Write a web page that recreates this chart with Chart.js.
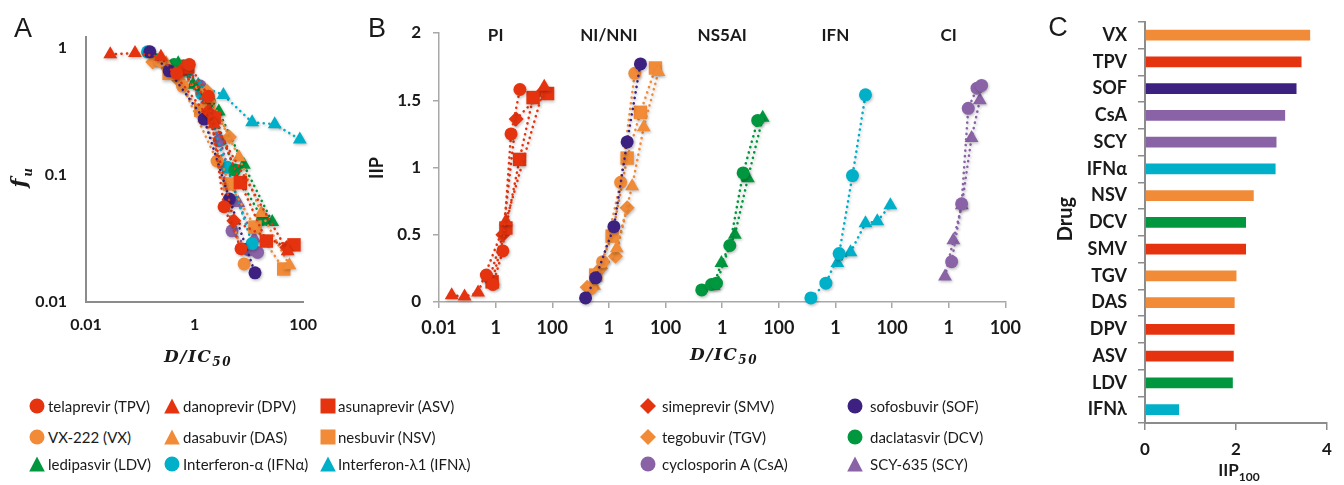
<!DOCTYPE html>
<html lang="en">
<head>
<meta charset="UTF-8">
<title>Instantaneous inhibitory potential of HCV drugs</title>
<script src="https://cdn.jsdelivr.net/npm/chart.js"></script>
<style>
  body { margin: 0; background: #fff; font-family: Lato, sans-serif; color: #1a1a1a; }
  #wrap { position: relative; width: 1344px; height: 485px; overflow: hidden; }
  canvas { position: absolute; top: 0; }
  .lbl { position: absolute; white-space: nowrap; line-height: 1; }
  .ctr { transform: translate(-50%, -50%); }
  .rot { transform: translate(-50%, -50%) rotate(-90deg); }
  .panel { font-family: "Liberation Sans", Arial, sans-serif; font-size: 27px; }
  .math { font-family: "DejaVu Serif", serif; font-style: italic; font-weight: bold; font-size: 17px; letter-spacing: 1.5px; }
  .math sub { font-size: 12px; }
  .bold { font-weight: bold; }
  .leg { position: absolute; font-size: 15px; white-space: nowrap; transform: translateY(-50%); }
  .mk { position: absolute; }
</style>
</head>
<body>
<div id="wrap">
  <canvas id="chartA" width="330" height="385" style="left:0"></canvas>
  <canvas id="chartB" width="670" height="385" style="left:360px"></canvas>
  <canvas id="chartC" width="314" height="485" style="left:1030px"></canvas>

  <div class="lbl panel ctr" style="left:23px;top:28px">A</div>
  <div class="lbl panel ctr" style="left:377px;top:28px">B</div>
  <div class="lbl panel ctr" style="left:1058px;top:27px">C</div>

  <div class="lbl math rot" style="left:21px;top:177px;font-size:21px">f<sub>u</sub></div>
  <div class="lbl math ctr" style="left:198px;top:358px">D/IC<sub>50</sub></div>
  <div class="lbl math ctr" style="left:724px;top:356px">D/IC<sub>50</sub></div>
  <div class="lbl bold rot" style="left:376px;top:168px;font-size:18px">IIP</div>
  <div class="lbl bold rot" style="left:1064px;top:219px;font-size:20px">Drug</div>
  <div class="lbl bold ctr" style="left:1239px;top:472px;font-size:17px">IIP<sub style="font-size:12px">100</sub></div>
  <div id="legend"></div>
</div>

<script>
  const RED = '#E5330F', ORANGE = '#F18B37', NAVY = '#3C2181',
        PURPLE = '#8A63A7', CYAN = '#00AFC8', GREEN = '#00973E';

  // D/IC50 and IIP; panel A shows the same points as fu = 10^-IIP
  const tpvDose = [0.47, 0.8, 1.8, 3.5, 7.2];
  const tpvIIP  = [0.20, 0.13, 0.38, 1.25, 1.58];
  const dpvDose = [0.028, 0.08, 0.24, 2.3, 52];
  const dpvIIP  = [0.05, 0.04, 0.07, 0.60, 1.60];
  const asvDose = [0.75, 2.3, 7.0, 21, 68];
  const asvIIP  = [0.15, 0.55, 1.06, 1.52, 1.55];
  const smvDose = [0.6, 1.8, 5.3, 50];
  const smvIIP  = [0.17, 0.50, 1.36, 1.57];
  const sofDose = [0.15, 0.34, 1.5, 4.4, 13];
  const sofIIP  = [0.03, 0.18, 0.56, 1.19, 1.77];
  const vxDose  = [0.23, 0.6, 2.6, 8.2];
  const vxIIP   = [0.10, 0.30, 0.89, 1.70];
  const dasDose = [0.3, 1.9, 6.6, 17, 56];
  const dasIIP  = [0.12, 0.40, 0.86, 1.30, 1.71];
  const nsvDose = [0.34, 1.3, 4.4, 13, 44];
  const nsvIIP  = [0.20, 0.49, 1.07, 1.41, 1.74];
  const tgvDose = [0.17, 0.5, 1.7, 4.4];
  const tgvIIP  = [0.11, 0.25, 0.34, 0.70];
  const dcvDose = [0.19, 0.42, 0.63, 1.86, 5.5, 18];
  const dcvIIP  = [0.09, 0.13, 0.14, 0.42, 0.96, 1.35];
  const ldvDose = [0.5, 0.94, 2.8, 8.1, 27];
  const ldvIIP  = [0.12, 0.29, 0.50, 0.92, 1.37];
  const ifnaDose = [0.136, 0.46, 1.35, 4.0, 11.5];
  const ifnaIIP  = [0.03, 0.14, 0.36, 0.94, 1.54];
  const ifnlDose = [1.17, 3.4, 11.5, 30, 87];
  const ifnlIIP  = [0.29, 0.37, 0.585, 0.60, 0.72];
  const csaDose = [1.27, 2.86, 4.9, 10, 14.5];
  const csaIIP  = [0.30, 0.73, 1.44, 1.59, 1.61];
  const scyDose = [0.74, 1.46, 2.9, 6.4, 12.6];
  const scyIIP  = [0.19, 0.46, 0.72, 1.22, 1.50];

  const groups = ['PI', 'NI/NNI', 'NS5AI', 'IFN', 'CI'];
  const aTicksX = [0.01, 1, 100];
  const aTicksY = [0.01, 0.1, 1];
  const bTicks = ['0.01', '1', '100', '1', '100', '1', '100', '1', '100', '1', '100'];

  // panel C
  const cDrugs = ['VX', 'TPV', 'SOF', 'CsA', 'SCY', 'IFNα', 'NSV', 'DCV', 'SMV', 'TGV', 'DAS', 'DPV', 'ASV', 'LDV', 'IFNλ'];
  const cIIP100 = [3.63, 3.44, 3.33, 3.08, 2.89, 2.87, 2.39, 2.22, 2.22, 2.01, 1.97, 1.97, 1.95, 1.93, 0.75];
  const cColors = [ORANGE, RED, NAVY, PURPLE, PURPLE, CYAN, ORANGE, GREEN, RED, ORANGE, ORANGE, RED, RED, GREEN, CYAN];

  // legend order (row by row)
  const drugs = [
    { name: 'telaprevir (TPV)', dose: tpvDose, iip: tpvIIP, color: RED, shape: 'circle', group: 0 },
    { name: 'danoprevir (DPV)', dose: dpvDose, iip: dpvIIP, color: RED, shape: 'triangle', group: 0 },
    { name: 'asunaprevir (ASV)', dose: asvDose, iip: asvIIP, color: RED, shape: 'rect', group: 0 },
    { name: 'simeprevir (SMV)', dose: smvDose, iip: smvIIP, color: RED, shape: 'rectRot', group: 0 },
    { name: 'sofosbuvir (SOF)', dose: sofDose, iip: sofIIP, color: NAVY, shape: 'circle', group: 1 },
    { name: 'VX-222 (VX)', dose: vxDose, iip: vxIIP, color: ORANGE, shape: 'circle', group: 1 },
    { name: 'dasabuvir (DAS)', dose: dasDose, iip: dasIIP, color: ORANGE, shape: 'triangle', group: 1 },
    { name: 'nesbuvir (NSV)', dose: nsvDose, iip: nsvIIP, color: ORANGE, shape: 'rect', group: 1 },
    { name: 'tegobuvir (TGV)', dose: tgvDose, iip: tgvIIP, color: ORANGE, shape: 'rectRot', group: 1 },
    { name: 'daclatasvir (DCV)', dose: dcvDose, iip: dcvIIP, color: GREEN, shape: 'circle', group: 2 },
    { name: 'ledipasvir (LDV)', dose: ldvDose, iip: ldvIIP, color: GREEN, shape: 'triangle', group: 2 },
    { name: 'Interferon-α (IFNα)', dose: ifnaDose, iip: ifnaIIP, color: CYAN, shape: 'circle', group: 3 },
    { name: 'Interferon-λ1 (IFNλ)', dose: ifnlDose, iip: ifnlIIP, color: CYAN, shape: 'triangle', group: 3 },
    { name: 'cyclosporin A (CsA)', dose: csaDose, iip: csaIIP, color: PURPLE, shape: 'circle', group: 4 },
    { name: 'SCY-635 (SCY)', dose: scyDose, iip: scyIIP, color: PURPLE, shape: 'triangle', group: 4 }
  ];

  const INK = '#1a1a1a';
  const radius = { circle: 6.5, triangle: 8, rect: 9.5, rectRot: 7.5 };

  function series(d, data) {
    return {
      label: d.name, data: data, showLine: true,
      borderColor: d.color, backgroundColor: d.color,
      pointBackgroundColor: d.color, pointBorderColor: d.color, pointBorderWidth: 0,
      pointStyle: d.shape, pointRadius: radius[d.shape],
      borderWidth: 2.6, borderDash: [0.1, 5.5], borderCapStyle: 'round',
      clip: false
    };
  }

  // soft drop shadow on the markers, like the original figure
  const shadow = {
    id: 'shadow',
    beforeDatasetsDraw(chart) {
      const ctx = chart.ctx;
      ctx.save();
      ctx.shadowColor = 'rgba(0,0,0,0.25)';
      ctx.shadowBlur = 3;
      ctx.shadowOffsetX = 1;
      ctx.shadowOffsetY = 1.5;
    },
    afterDatasetsDraw(chart) { chart.ctx.restore(); }
  };

  const groupTitles = {
    id: 'groupTitles',
    afterDraw(chart) {
      const { ctx, scales: { x, y } } = chart;
      ctx.save();
      ctx.font = 'bold 17px Lato';
      ctx.fillStyle = INK;
      ctx.textAlign = 'center';
      ctx.textBaseline = 'middle';
      groups.forEach((g, k) => ctx.fillText(g, x.getPixelForValue(2 + 4 * k), y.getPixelForValue(2) + 3));
      ctx.restore();
    }
  };

  const noPlugins = { legend: { display: false }, tooltip: { enabled: false } };

  // ---- panel A ----
  new Chart(document.getElementById('chartA'), {
    type: 'scatter',
    data: {
      datasets: drugs.map(d => series(d, d.dose.map((x, i) => ({ x: x, y: Math.pow(10, -d.iip[i]) }))))
    },
    options: {
      responsive: false, animation: false, plugins: noPlugins,
      layout: { padding: { left: 0, top: 37, right: 22, bottom: 0 } },
      scales: {
        x: {
          type: 'logarithmic', min: 0.01, max: 100,
          afterBuildTicks: s => { s.ticks = aTicksX.map(v => ({ value: v })); },
          afterFit: s => { s.height = 83; },
          grid: { display: false, drawTicks: false },
          border: { display: true, color: '#8c8c8c', width: 2 },
          ticks: { callback: v => String(v), font: { family: 'Lato', weight: 'bold', size: 16 }, color: INK, padding: 13, maxRotation: 0, autoSkip: false }
        },
        y: {
          type: 'logarithmic', min: 0.01, max: 1.22,
          afterBuildTicks: s => { s.ticks = aTicksY.map(v => ({ value: v })); },
          afterFit: s => { s.width = 86; },
          grid: { display: false, drawTicks: false },
          border: { display: true, color: '#8c8c8c', width: 2 },
          ticks: { callback: v => String(v), font: { family: 'Lato', weight: 'bold', size: 16 }, color: INK, padding: 19, autoSkip: false }
        }
      }
    },
    plugins: [shadow]
  });

  // ---- panel B ----
  const greyB = '#a8a8a8';
  new Chart(document.getElementById('chartB'), {
    type: 'scatter',
    data: {
      datasets: drugs.map(d => series(d, d.dose.map((x, i) => ({ x: Math.log10(x) + 2 + 4 * d.group, y: d.iip[i] }))))
    },
    options: {
      responsive: false, animation: false, plugins: noPlugins,
      layout: { padding: { left: 0, top: 33, right: 22, bottom: 0 } },
      scales: {
        x: {
          type: 'linear', min: 0, max: 20,
          afterFit: s => { s.height = 83; },
          grid: { display: true, drawOnChartArea: false, drawTicks: true, tickLength: 6, color: greyB, lineWidth: 1.5 },
          border: { display: true, color: greyB, width: 1.5 },
          ticks: { stepSize: 2, callback: v => bTicks[Math.round(v / 2)], font: { family: 'Lato', weight: 'bold', size: 18 }, color: INK, padding: 9, maxRotation: 0, autoSkip: false }
        },
        y: {
          type: 'linear', min: 0, max: 2,
          afterFit: s => { s.width = 79; },
          grid: { display: true, drawOnChartArea: false, drawTicks: true, tickLength: 6, color: greyB, lineWidth: 1.5 },
          border: { display: true, color: greyB, width: 1.5 },
          ticks: { stepSize: 0.5, callback: v => String(v), font: { family: 'Lato', weight: 'bold', size: 17 }, color: INK, padding: 12 }
        }
      }
    },
    plugins: [shadow, groupTitles]
  });

  // ---- panel C ----
  const greyC = '#8c8c8c';
  new Chart(document.getElementById('chartC'), {
    type: 'bar',
    data: {
      labels: cDrugs,
      datasets: [{ data: cIIP100, backgroundColor: cColors, categoryPercentage: 1, barPercentage: 0.4 }]
    },
    options: {
      indexAxis: 'y',
      responsive: false, animation: false, plugins: noPlugins,
      layout: { padding: { left: 0, top: 12, right: 17, bottom: 0 } },
      scales: {
        x: {
          min: 0, max: 4,
          afterFit: s => { s.height = 62; },
          grid: { display: true, drawOnChartArea: false, tickLength: 7, color: greyC, lineWidth: 1.5 },
          border: { display: true, color: greyC, width: 2 },
          ticks: { stepSize: 2, font: { family: 'Lato', weight: 'bold', size: 17 }, color: INK, padding: 9, maxRotation: 0 }
        },
        y: {
          afterFit: s => { s.width = 115; },
          grid: { display: true, offset: true, drawOnChartArea: false, tickLength: 7, color: greyC, lineWidth: 1.5 },
          border: { display: true, color: greyC, width: 2 },
          ticks: { font: { family: 'Lato', weight: 'bold', size: 18 }, color: INK, padding: 11, autoSkip: false }
        }
      }
    }
  });

  // ---- legend (HTML) ----
  const colX = [37, 172, 328, 648, 855];
  const textX = [48, 183, 338, 662, 870];
  const rowY = [406, 437, 464];
  function markerSvg(shape, color) {
    let s;
    if (shape === 'circle') s = `<circle cx="8" cy="8" r="7.5" fill="${color}"/>`;
    else if (shape === 'triangle') s = `<polygon points="8,0.5 15.8,15.5 0.2,15.5" fill="${color}"/>`;
    else if (shape === 'rect') s = `<rect x="0.5" y="0.5" width="15" height="15" fill="${color}"/>`;
    else s = `<polygon points="8,0 16,8 8,16 0,8" fill="${color}"/>`;
    return `<svg width="16" height="16" viewBox="0 0 16 16">${s}</svg>`;
  }
  const legend = document.getElementById('legend');
  drugs.forEach((d, i) => {
    const r = Math.floor(i / 5), c = i % 5;
    const mk = document.createElement('div');
    mk.className = 'mk';
    mk.style.left = (colX[c] - 8) + 'px';
    mk.style.top = (rowY[r] - 8) + 'px';
    mk.innerHTML = markerSvg(d.shape, d.color);
    legend.appendChild(mk);
    const t = document.createElement('div');
    t.className = 'leg';
    t.style.left = textX[c] + 'px';
    t.style.top = rowY[r] + 'px';
    t.textContent = d.name;
    legend.appendChild(t);
  });
</script>
</body>
</html>
